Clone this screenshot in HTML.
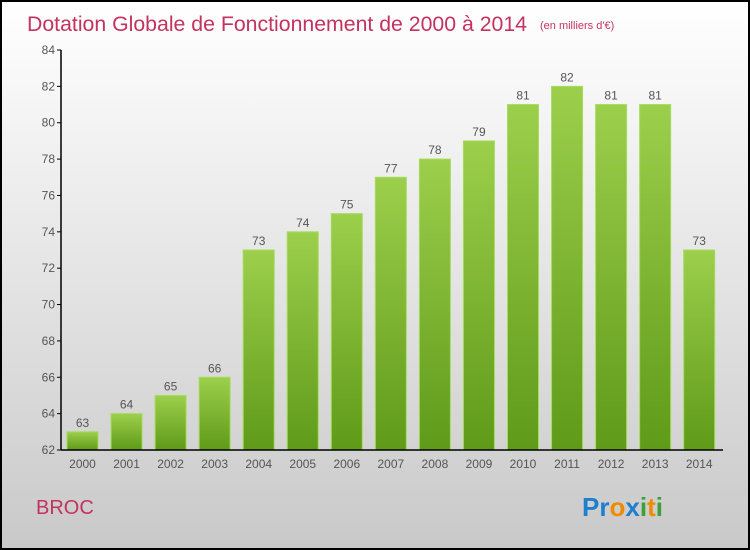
<!DOCTYPE html>
<html><head><meta charset="utf-8"><style>
body{margin:0;width:750px;height:550px;overflow:hidden;font-family:"Liberation Sans",sans-serif}
#wrap{position:absolute;left:0;top:0;width:746px;height:546px;border:2px solid #000;background:linear-gradient(#fff,#f2f2f2 25%,#c9c9c9)}
</style></head><body>
<div id="wrap">
<svg width="746" height="546" style="position:absolute;left:0;top:0" id="svg">
<defs><linearGradient id="g" x1="0" y1="0" x2="0" y2="1"><stop offset="0" stop-color="#9ccf4c"/><stop offset="1" stop-color="#5f9a19"/></linearGradient></defs>
<text x="25" y="29" font-size="21" fill="#c4325f" textLength="500" lengthAdjust="spacingAndGlyphs">Dotation Globale de Fonctionnement de 2000 à 2014</text>
<text x="538" y="27" font-size="11" fill="#c4325f">(en milliers d'€)</text>
<text x="34" y="512" font-size="20" fill="#c4325f">BROC</text>
<text x="580" y="514" font-size="26" font-weight="bold"><tspan fill="#1d7fd0">Pr</tspan><tspan fill="#f08a00">o</tspan><tspan fill="#1d7fd0">x</tspan><tspan fill="#3aa03a">i</tspan><tspan fill="#f08a00">t</tspan><tspan fill="#3aa03a">i</tspan></text>
<g id="plot"></g>
</svg></div>
<script>
const years=["2000","2001","2002","2003","2004","2005","2006","2007","2008","2009","2010","2011","2012","2013","2014"];
const values=[63,64,65,66,73,74,75,77,78,79,81,82,81,81,73];
const yTicks=[62,64,66,68,70,72,74,76,78,80,82,84];
const NS="http://www.w3.org/2000/svg",g=document.getElementById('plot');
const y=v=>448-(v-62)*(400/22), x=i=>80.5+i*44.05;
function mk(t,a){const e=document.createElementNS(NS,t);for(const k in a)e.setAttribute(k,a[k]);g.appendChild(e);return e;}
yTicks.forEach(v=>{
const l=mk('line',{x1:55,x2:59,y1:y(v),y2:y(v),stroke:'#000'});


const t=mk('text',{x:53,y:y(v)+4,'font-size':12,'text-anchor':'end',fill:'#555'});t.textContent=v;


});
values.forEach((v,i)=>{
const r=mk('rect',{x:x(i)-15.5,y:y(v),width:31,height:448-y(v),fill:'url(#g)',stroke:'#a6dc5a','stroke-width':1});


const t=mk('text',{x:x(i),y:y(v)-5,'font-size':12,'text-anchor':'middle',fill:'#555'});t.textContent=v;


const a=mk('text',{x:x(i),y:466,'font-size':12,'text-anchor':'middle',fill:'#555'});a.textContent=years[i];


});
const ya=mk('line',{x1:59,x2:59,y1:y(84),y2:448,stroke:'#000','stroke-width':1.5});


const xa=mk('line',{x1:59,x2:721,y1:448,y2:448,stroke:'#000','stroke-width':1.5});


</script>
</body></html>
